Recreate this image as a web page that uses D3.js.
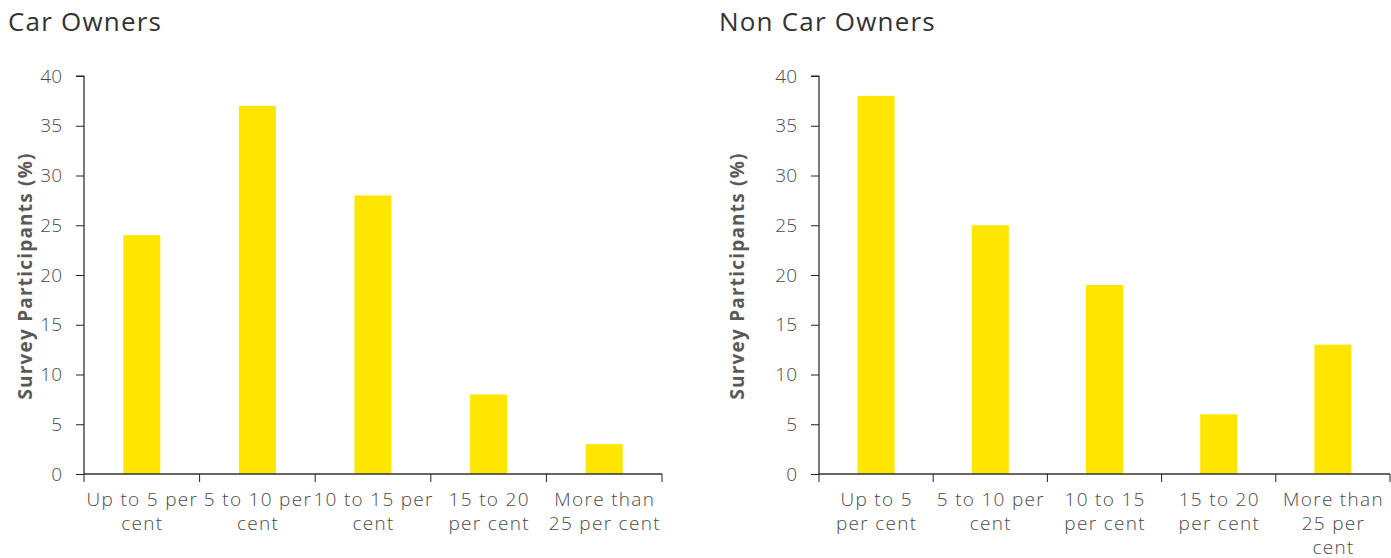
<!DOCTYPE html>
<html><head><meta charset="utf-8">
<script src="https://cdn.jsdelivr.net/npm/d3@7"></script>
<style>body{margin:0;background:#fff}svg{display:block}</style>
</head><body>
<svg id="c" width="1391" height="558"></svg>
<script>
const categories = ["Up to 5 per cent","5 to 10 per cent","10 to 15 per cent","15 to 20 per cent","More than 25 per cent"];
const carOwners = [24, 37, 28, 8, 3];
const nonCarOwners = [38, 25, 19, 6, 13];
const yTicks = [0, 5, 10, 15, 20, 25, 30, 35, 40];
const carLabels = [["Up to 5 per","cent"],["5 to 10 per","cent"],["10 to 15 per","cent"],["15 to 20","per cent"],["More than","25 per cent"]];
const nonCarLabels = [["Up to 5","per cent"],["5 to 10 per","cent"],["10 to 15","per cent"],["15 to 20","per cent"],["More than","25 per","cent"]];

const svg = d3.select("#c");
const FONT = "'Open Sans', sans-serif";

function panel(opt){
  const g = svg.append("g");
  g.append("text").attr("x", opt.titleX).attr("y", 31).text(opt.title)
    .attr("font-family", FONT).attr("font-size", 26).attr("fill", "#333").attr("letter-spacing", 1.2);
  const x = d3.scaleBand().domain(categories).range([opt.x0, opt.x1]).paddingInner(0).paddingOuter(0);
  const y = d3.scaleLinear().domain([0, 40]).range([474, 76]);
  const bw = 37;
  g.selectAll("rect").data(opt.values).join("rect")
    .attr("x", (d,i) => x(categories[i]) + x.bandwidth()/2 - bw/2)
    .attr("width", bw)
    .attr("y", d => y(d)).attr("height", d => y(0) - y(d))
    .attr("fill", "#FFE600");
  const ya = g.append("g").attr("transform", `translate(${opt.x0},0)`)
    .call(d3.axisLeft(y).tickValues(yTicks).tickSize(8).tickPadding(14));
  ya.select(".domain").attr("stroke", "#222").attr("stroke-width", 1.2).attr("d", `M-8,${y(40)}H0V${y(0)}`);
  ya.selectAll(".tick line").attr("stroke", "#222");
  ya.selectAll(".tick text").attr("font-family", FONT).attr("font-size", 19).attr("font-weight", 300).attr("fill", "#4a4a4a");
  const xa = g.append("g").attr("transform", `translate(0,${y(0)})`);
  xa.append("line").attr("x1", opt.x0).attr("x2", opt.x1).attr("stroke", "#333").attr("stroke-width", 1.3);
  const edges = categories.map(c => x(c)).concat([opt.x1]);
  xa.selectAll("line.tk").data(edges).join("line").attr("class","tk")
    .attr("x1", d=>d).attr("x2", d=>d).attr("y1", 0).attr("y2", 8).attr("stroke", "#222");
  const lt = xa.selectAll("text").data(opt.labels).join("text")
    .attr("font-family", FONT).attr("font-size", 19).attr("font-weight", 300).attr("fill", "#4a4a4a").attr("text-anchor", "middle")
    .attr("letter-spacing", 1.3)
    .attr("transform", (d,i) => `translate(${x(categories[i]) + x.bandwidth()/2 + 0.6},31.5)`);
  lt.selectAll("tspan").data(d => d).join("tspan").attr("x", 0).attr("dy", (d,i) => i ? 24 : 0).text(d => d);
  g.append("text").attr("transform", `translate(${opt.yTitleX},276) rotate(-90)`)
    .attr("text-anchor", "middle").attr("font-family", FONT).attr("font-size", 19)
    .attr("font-weight", "bold").attr("fill", "#595959").attr("letter-spacing", 1.2).text("Survey Participants (%)");
}

panel({title:"Car Owners", titleX:8, x0:84, x1:662, values:carOwners, labels:carLabels, yTitleX:32});
panel({title:"Non Car Owners", titleX:719, x0:819, x1:1390, values:nonCarOwners, labels:nonCarLabels, yTitleX:744});
</script>
</body></html>
